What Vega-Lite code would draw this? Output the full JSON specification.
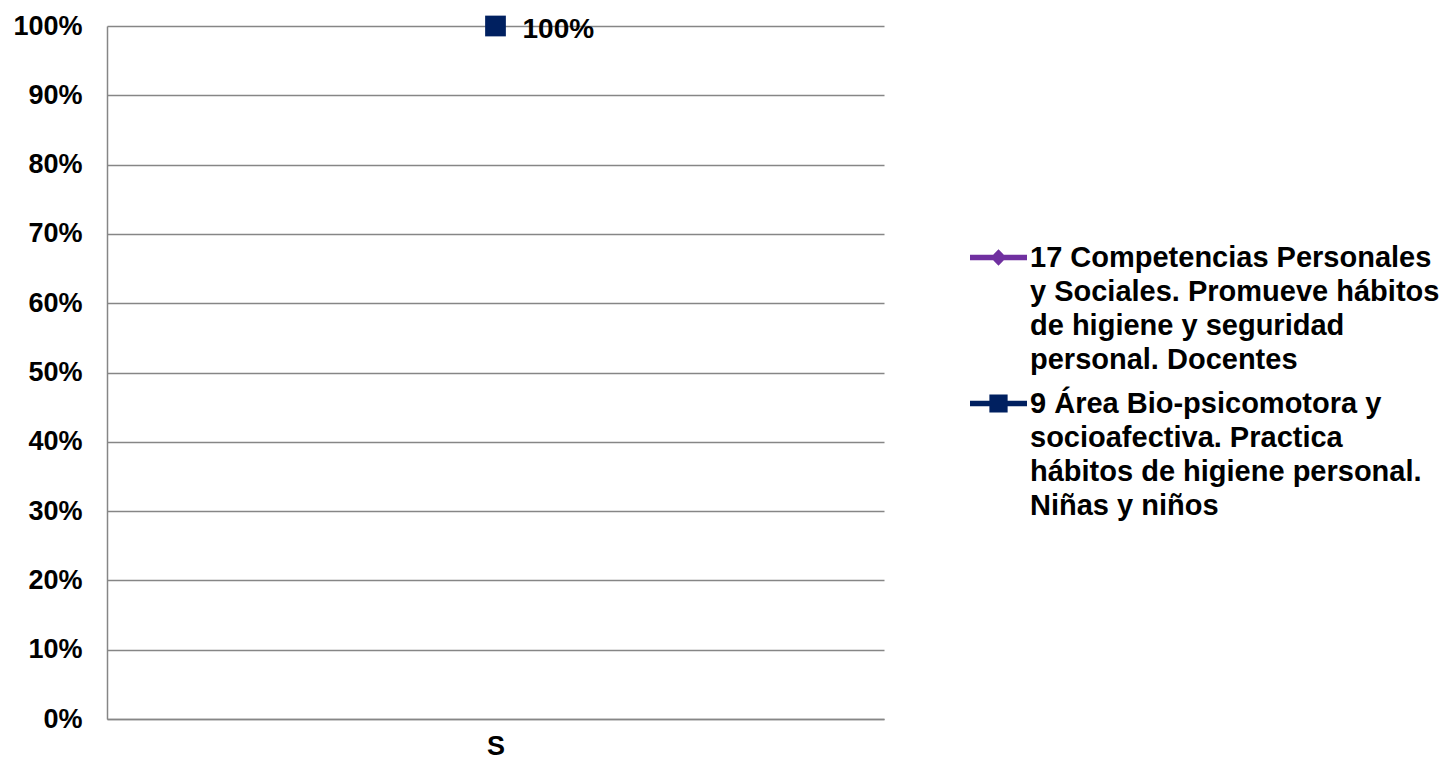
{
  "$schema": "https://vega.github.io/schema/vega-lite/v6.json",
  "width": 777,
  "height": 693,
  "autosize": "none",
  "padding": {"left": 107, "top": 26, "right": 563, "bottom": 41},
  "background": "white",
  "config": {
    "view": {"stroke": null},
    "font": "Liberation Sans",
    "axis": {"labelFont": "Liberation Sans", "labelFontWeight": "bold", "labelFontSize": 27, "labelColor": "#000000"},
    "legend": {"labelFont": "Liberation Sans", "labelFontWeight": "bold", "labelFontSize": 29, "labelColor": "#000000"},
    "style": {"guide-label": {"lineHeight": 34}}
  },
  "data": {
    "values": [
      {"categoria": "S", "serie": "17 Competencias Personales y Sociales. Promueve hábitos de higiene y seguridad personal.  Docentes", "valor": null},
      {"categoria": "S", "serie": "9 Área Bio-psicomotora y socioafectiva. Practica hábitos de higiene personal. Niñas y niños", "valor": 1}
    ]
  },
  "encoding": {
    "x": {
      "field": "categoria",
      "type": "nominal",
      "scale": {"type": "point", "padding": 0.5},
      "axis": {"title": null, "labelAngle": 0, "ticks": false, "tickSize": 0, "labelPadding": 14, "domainColor": "#868686", "domainWidth": 1.5, "grid": false, "labelBaseline": "top"}
    },
    "y": {
      "field": "valor",
      "type": "quantitative",
      "scale": {"domain": [0, 1], "nice": false, "zero": true},
      "axis": {"title": null, "format": ".0%", "values": [0, 0.1, 0.2, 0.3, 0.4, 0.5, 0.6, 0.7, 0.8, 0.9, 1], "ticks": false, "tickSize": 0, "labelPadding": 25, "domainColor": "#868686", "domainWidth": 1.5, "grid": true, "gridColor": "#868686", "gridWidth": 1.3}
    }
  },
  "layer": [
    {
      "transform": [{"filter": "datum.valor == null"}],
      "mark": {"type": "point", "filled": true, "opacity": 1},
      "encoding": {
        "color": {
          "field": "serie",
          "type": "nominal",
          "scale": {
            "domain": [
              "17 Competencias Personales y Sociales. Promueve hábitos de higiene y seguridad personal.  Docentes",
              "9 Área Bio-psicomotora y socioafectiva. Practica hábitos de higiene personal. Niñas y niños"
            ],
            "range": ["#7030A0", "#002060"]
          },
          "legend": {
            "title": null,
            "orient": "none",
            "legendX": 863,
            "legendY": 203,
            "symbolSize": 3249,
            "symbolStrokeWidth": 0,
            "labelOffset": 3,
            "labelLimit": 600,
            "rowPadding": 0,
            "labelBaseline": "middle",
            "labelExpr": "indexof(datum.label, '17') == 0 ? ['17 Competencias Personales', 'y Sociales. Promueve hábitos', 'de higiene y seguridad', 'personal.  Docentes'] : ['9 Área Bio-psicomotora y', 'socioafectiva. Practica', 'hábitos de higiene personal.', 'Niñas y niños']"
          }
        },
        "shape": {
          "field": "serie",
          "type": "nominal",
          "scale": {
            "domain": [
              "17 Competencias Personales y Sociales. Promueve hábitos de higiene y seguridad personal.  Docentes",
              "9 Área Bio-psicomotora y socioafectiva. Practica hábitos de higiene personal. Niñas y niños"
            ],
            "range": [
              "M-1,-0.1L1,-0.1L1,0.1L-1,0.1Z M0,-0.29L0.28,0L0,0.29L-0.28,0Z",
              "M-1,-0.1L1,-0.1L1,0.1L-1,0.1Z M-0.32,-0.32L0.32,-0.32L0.32,0.32L-0.32,0.32Z"
            ]
          },
          "legend": {
            "title": null,
            "orient": "none",
            "legendX": 863,
            "legendY": 203,
            "symbolSize": 3249,
            "symbolStrokeWidth": 0,
            "labelOffset": 3,
            "labelLimit": 600,
            "rowPadding": 0,
            "labelBaseline": "middle",
            "labelExpr": "indexof(datum.label, '17') == 0 ? ['17 Competencias Personales', 'y Sociales. Promueve hábitos', 'de higiene y seguridad', 'personal.  Docentes'] : ['9 Área Bio-psicomotora y', 'socioafectiva. Practica', 'hábitos de higiene personal.', 'Niñas y niños']"
          }
        }
      }
    },
    {
      "transform": [{"filter": "datum.valor != null"}],
      "mark": {"type": "point", "filled": true, "shape": "square", "size": 430, "opacity": 1, "color": "#002060"}
    },
    {
      "transform": [{"filter": "datum.valor != null"}],
      "mark": {"type": "text", "align": "left", "baseline": "middle", "dx": 27, "dy": 4, "fontSize": 28, "fontWeight": "bold", "font": "Liberation Sans", "color": "#000000"},
      "encoding": {
        "text": {"field": "valor", "type": "quantitative", "format": ".0%"}
      }
    }
  ]
}
